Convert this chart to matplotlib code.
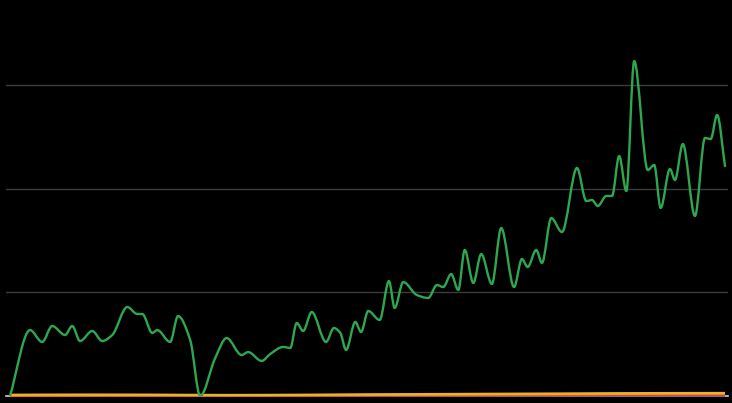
import numpy as np
import matplotlib
matplotlib.use("Agg")
import matplotlib.pyplot as plt
from matplotlib.path import Path
from matplotlib.patches import PathPatch

# ---- data ----
green_t = [0, 2.8, 4.5, 5.9, 7.7, 8.7, 9.8, 11.5, 12.9, 14.3, 16.4, 17.8, 18.5, 19.9,
           20.6, 22.4, 23.5, 25.2, 26.6, 28.7, 30.3, 32.4, 33.3, 35.2, 36.4, 38.2, 39.2,
           40.1, 41.0, 42.2, 44.2, 45.3, 46.2, 47.0, 48.3, 49.1, 50.1, 51.7, 53.0, 53.8,
           55.0, 56.9, 58.5, 59.7, 60.6, 61.7, 62.7, 63.6, 64.8, 65.9, 67.4, 68.7, 70.5,
           71.6, 72.4, 73.6, 74.4, 75.7, 77.2, 79.3, 80.6, 81.4, 82.2, 83.4, 84.2, 85.2,
           86.2, 87.3, 89.2, 90.1, 91.0, 92.3, 93.0, 94.1, 95.8, 97.2, 98.0, 98.9, 100]
green_v = [0, 63.6, 52.1, 67.5, 58.8, 67.5, 53.0, 62.7, 53.0, 58.8, 85.8, 79.1, 79.1, 60.8,
           63.6, 52.1, 77.1, 54.0, 0, 36.6, 55.9, 39.5, 42.4, 33.8, 40.5, 47.3, 46.3,
           70.4, 62.7, 81.0, 52.1, 65.6, 60.8, 44.4, 71.4, 61.7, 82.0, 73.3, 110.9, 84.9,
           109.9, 97.4, 94.5, 107.0, 105.1, 117.6, 102.2, 140.8, 109.0, 136.9, 108.0, 162.0, 105.1,
           132.1, 124.4, 140.8, 128.3, 171.6, 158.1, 219.9, 188.0, 189.0, 183.2, 192.9, 192.9, 231.4,
           197.7, 323.0, 217.9, 222.8, 181.3, 218.9, 208.3, 243.0, 173.6, 248.8, 247.8, 271.0, 221.8]

small_t = [0, 10, 20, 30, 40, 50, 60, 70, 80, 90, 100]
yellow_v = [1.2, 1.4, 1.3, 1.0, 1.2, 1.6, 1.9, 2.2, 2.5, 2.8, 2.9]
orange_v = [0.6, 0.7, 0.8, 0.6, 0.8, 1.0, 1.3, 1.6, 1.9, 2.2, 2.3]
red_v = [0.2, 0.3, 0.4, 0.6, 0.4, 0.5, 0.6, 0.8, 1.0, 1.2, 1.3]
purple_v = [0.0, 0.1, 0.1, 0.1, 0.1, 0.1, 0.2, 0.2, 0.3, 0.3, 0.3]

grid_vals = [100, 200, 300]


def smooth_path(x, y):
    x = np.asarray(x, float)
    y = np.asarray(y, float)
    h = np.diff(x)
    d = np.diff(y) / h
    n = len(x)
    m = np.zeros(n)
    for i in range(1, n - 1):
        if d[i - 1] * d[i] <= 0:
            m[i] = 0.0
        else:
            w1 = 2 * h[i] + h[i - 1]
            w2 = h[i] + 2 * h[i - 1]
            m[i] = (w1 + w2) / (w1 / d[i - 1] + w2 / d[i])
    m[0] = d[0]
    m[-1] = d[-1]
    verts = [(x[0], y[0])]
    codes = [Path.MOVETO]
    for i in range(n - 1):
        c1 = (x[i] + h[i] / 3, y[i] + m[i] * h[i] / 3)
        c2 = (x[i + 1] - h[i] / 3, y[i + 1] - m[i + 1] * h[i] / 3)
        verts += [c1, c2, (x[i + 1], y[i + 1])]
        codes += [Path.CURVE4] * 3
    return Path(verts, codes)


fig = plt.figure(figsize=(7.32, 4.03), dpi=100, facecolor="black")
ax = fig.add_axes([6 / 732, 7 / 403, 722 / 732, 396 / 403])
ax.set_facecolor("black")
ax.set_xlim(-4 / 7.15, 100 + 3 / 7.15)
ax.set_ylim(0, 396 / 1.037)
for s in ax.spines.values():
    s.set_visible(False)
ax.set_xticks([])
ax.set_yticks([])

for g in grid_vals:
    ax.axhline(g, color="#3c3c3c", lw=1.0, zorder=1)
ax.axhline(0, color="#d0d0d0", lw=1.2, zorder=1, clip_on=False)

series = [
    (purple_v, "#8e4a8e"),
    (red_v, "#d9483b"),
    (orange_v, "#f39c12"),
    (yellow_v, "#e8b32a"),
]
for vals, col in series:
    ax.add_patch(PathPatch(smooth_path(small_t, vals), fill=False, edgecolor=col,
                           lw=1.6, zorder=3, clip_on=False))

ax.add_patch(PathPatch(smooth_path(green_t, green_v), fill=False, edgecolor="#2ea84f",
                       lw=1.7, zorder=4, capstyle="round", joinstyle="round"))

fig.savefig("out.png", dpi=100, facecolor="black")
